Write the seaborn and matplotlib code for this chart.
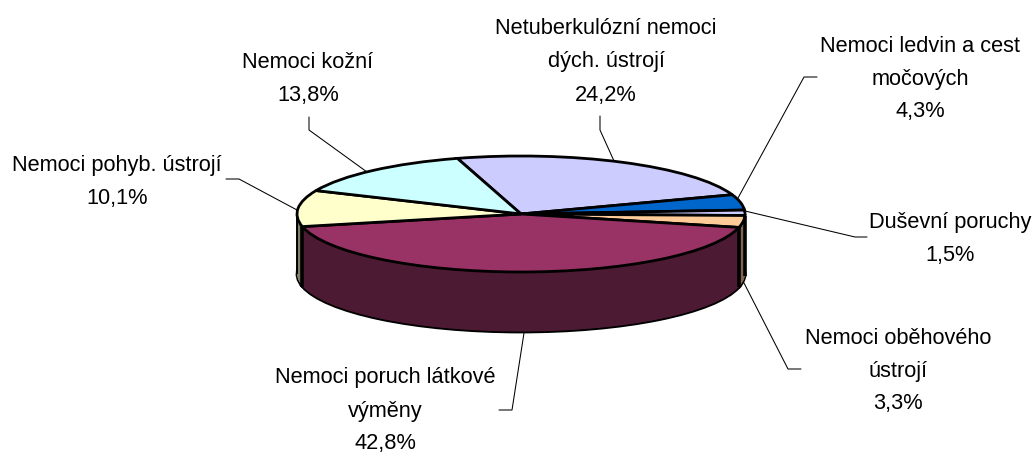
import numpy as np
import matplotlib
matplotlib.use('Agg')
import matplotlib.pyplot as plt
import seaborn as sns

sns.set_theme(style='white')
plt.rcParams['font.family'] = ['Liberation Sans', 'DejaVu Sans']

W, H = 1035, 454

# slices, clockwise from the lavender one
labels = ['Netuberkulózní nemoci\ndých. ústrojí', 'Nemoci ledvin a cest\nmočových', 'Duševní poruchy',
          'Nemoci oběhového\nústrojí', 'Nemoci poruch látkové\nvýměny', 'Nemoci pohyb. ústrojí', 'Nemoci kožní']
values = [24.2, 4.3, 1.5, 3.3, 42.8, 10.1, 13.8]
top_colors = ['#CCCCFF', '#0066CC', '#CCCCFF', '#FFCC99', '#993366', '#FFFFCC', '#CCFFFF']
side_colors = ['#666680', '#003366', '#666680', '#806650', '#4D1A33', '#808066', '#668080']

# label centres in pixels
label_x = [606, 920, 950, 898, 385, 117, 308]
label_y = [62, 79, 239, 371, 411, 182, 79]

# leader lines in pixels
leaders = [
    [(600, 116), (600, 130), (614, 161)],
    [(817, 77), (804, 77), (738, 198)],
    [(745, 211), (855, 237), (867, 237)],
    [(744, 283), (788, 369), (801, 369)],
    [(524, 333), (512, 410), (499, 410)],
    [(226, 179), (239, 179), (297, 210)],
    [(309, 117), (309, 130), (367, 172)],
]

# pie ellipse in pixels
cx, cy, rx, ry, depth = 521, 214, 224, 58, 60

fig = plt.figure(figsize=(W / 100, H / 100), dpi=100)
ax = fig.add_axes([0, 0, 1, 1])
ax.axis('off')

start = 106.5

# side of the pie: stack of dark pies going up from the bottom
d_levels = np.arange(depth, 0, -0.5) / ry
for n, d in enumerate(d_levels):
    ax.pie(values, colors=side_colors, startangle=start, counterclock=False, center=(0, -d), radius=1,
           wedgeprops={'linewidth': 2 if n == 0 else 0, 'edgecolor': 'black' if n == 0 else 'none'})

# top surface
wedges, _ = ax.pie(values, colors=top_colors, startangle=start, counterclock=False, center=(0, 0), radius=1,
                   wedgeprops={'linewidth': 2, 'edgecolor': 'black'})

ax.set_aspect('auto')
ax.set_xlim(-cx / rx, (W - cx) / rx)
ax.set_ylim(-(H - cy) / ry, cy / ry)

# vertical edges where slices meet on the visible side
d_full = depth / ry
for w in wedges:
    a = np.radians(w.theta1)
    if np.sin(a) < 0:
        ax.plot([np.cos(a)] * 2, [np.sin(a), np.sin(a) - d_full], color='black', lw=2.6, solid_capstyle='butt', zorder=5)
for x in [-1, 1]:
    ax.plot([x, x], [0, -d_full], color='black', lw=1.4, solid_capstyle='butt', zorder=5)

# leader lines and labels, pixel coordinates
for pts in leaders:
    xs = [(p[0] - cx) / rx for p in pts]
    ys = [(cy - p[1]) / ry for p in pts]
    ax.plot(xs, ys, color='black', lw=0.75, zorder=6)

for lab, v, x, y in zip(labels, values, label_x, label_y):
    txt = lab + '\n' + f'{v:.1f}'.replace('.', ',') + '%'
    fig.text(x / W, 1 - y / H, txt, ha='center', va='center', fontsize=15.7, color='black', linespacing=1.75)

fig.savefig('out.png', dpi=100)
